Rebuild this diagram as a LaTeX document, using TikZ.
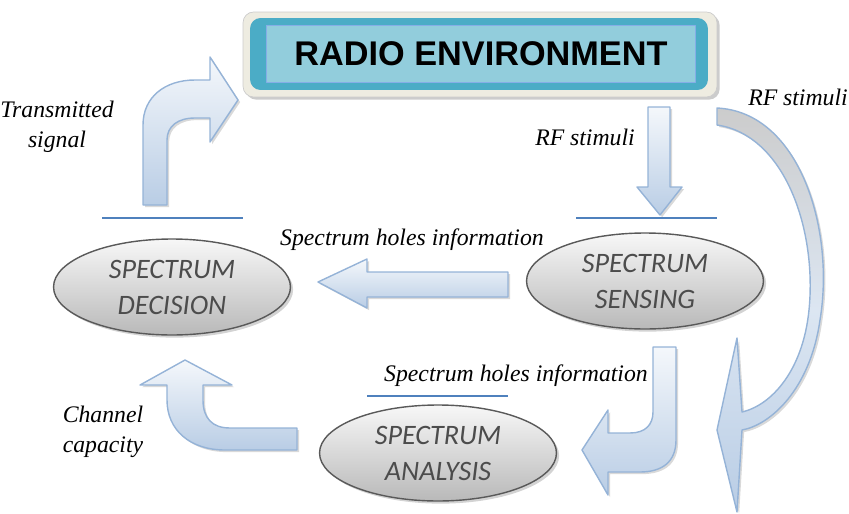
\documentclass[tikz,border=0pt]{standalone}
\usepackage{fontspec}
\setmainfont{Liberation Serif}
\newfontfamily\stagefont{Carlito}
\newfontfamily\titlefont{Liberation Sans}
\usetikzlibrary{shapes.geometric,shadows}
\definecolor{arrowblue}{HTML}{B9CDE5}
\definecolor{arrowedge}{HTML}{95B3D7}
\definecolor{teal}{HTML}{4BACC6}
\definecolor{tealpale}{HTML}{92CDDC}
\definecolor{cream}{HTML}{EEECE1}
\definecolor{barblue}{HTML}{4F81BD}
\definecolor{stagetext}{HTML}{595959}
\begin{document}
\begin{tikzpicture}[x=0.02cm, y=-0.02cm, line join=round,
    envlayer/.style={rectangle, rounded corners=6pt, inner sep=0pt},
    stage/.style={ellipse, draw=stagetext, line width=0.8pt, top color=gray!6, bottom color=gray!55,
        minimum width=4.74cm, minimum height=1.92cm, inner sep=0pt, align=center,
        font=\stagefont\itshape\fontsize{16}{20.5}\selectfont, text=stagetext!85!black,
        drop shadow={opacity=0.35, shadow xshift=1.5pt, shadow yshift=-1.5pt}},
    lbl/.style={font=\itshape\fontsize{13.5}{17}\selectfont, align=center, inner sep=0pt},
    blockarrow/.style={draw=arrowedge, line width=0.8pt, top color=white!85!arrowblue, bottom color=arrowblue,
        drop shadow={opacity=0.3, shadow xshift=1.2pt, shadow yshift=-1.2pt}},
    barline/.style={draw=barblue, line width=1pt}]
  \useasboundingbox (0,0) rectangle (849,514);
  % radio environment box
  \node[envlayer, fill=cream, draw=gray!40, minimum width=9.48cm, minimum height=1.7cm,
        drop shadow={opacity=0.4, shadow xshift=1.5pt, shadow yshift=-1.5pt}] (envo) at (480,54.5) {};
  \node[envlayer, fill=teal, minimum width=9.16cm, minimum height=1.44cm] (envm) at (479,54) {};
  \node[envlayer, rounded corners=0pt, fill=tealpale, draw=teal!70!blue!60, minimum width=8.58cm, minimum height=1.14cm,
        font=\titlefont\bfseries\fontsize{19.5}{21}\selectfont] (env) at (481,53.5) {RADIO ENVIRONMENT};
  % stages
  \node[stage] (decision) at (172,287) {SPECTRUM\\DECISION};
  \node[stage] (sensing) at (645,281) {SPECTRUM\\SENSING};
  \node[stage] (analysis) at (438,453) {SPECTRUM\\ANALYSIS};
  \draw[barline] (102,218) -- (243,218);
  \draw[barline] (576,218) -- (717,218);
  \draw[barline] (367,396) -- (508,396);
  % arrows
  \path[blockarrow] (143,205) -- (143,125) .. controls (143,97) and (165,80) .. (195,80) -- (210,80)
    -- (210,57) -- (238,100) -- (210,142) -- (210,118) -- (195,118)
    .. controls (178,118) and (167,126) .. (167,140) -- (167,205) -- cycle;
  \path[blockarrow] (648,107) -- (670,107) -- (670,187) -- (682,187) -- (660,215) -- (637,187) -- (648,187) -- cycle;
  \path[blockarrow] (508,272) -- (367,272) -- (367,259) -- (318,282) -- (367,308) -- (367,297) -- (508,297) -- cycle;
  \path[blockarrow] (653,347) -- (676,347) -- (676,440) .. controls (676,462) and (662,472) .. (640,472) -- (608,472)
    -- (608,495) -- (582,450) -- (608,410) -- (608,433) -- (630,433)
    .. controls (645,433) and (653,425) .. (653,412) -- cycle;
  \path[blockarrow] (297,428) -- (230,428) .. controls (212,428) and (203,418) .. (203,400) -- (203,385)
    -- (232,385) -- (185,360) -- (140,385) -- (167,385) -- (167,400)
    .. controls (167,430) and (190,450) .. (225,450) -- (297,450) -- cycle;
  \path[blockarrow, top color=gray!40, middle color=white!50!arrowblue] (717,108) .. controls (800,112) and (835,230) .. (820,320)
    .. controls (810,390) and (770,425) .. (742,430) -- (737,512) -- (717,430) -- (737,338) -- (742,412)
    .. controls (772,405) and (803,370) .. (809,310) .. controls (817,230) and (785,135) .. (717,125) -- cycle;
  % labels
  \node[lbl] (txlbl) at (57,127) {Transmitted\\signal};
  \node[lbl] (rflbl) at (585,137) {RF stimuli};
  \node[lbl] (rfouter) at (798,97) {RF stimuli};
  \node[lbl] (holeslbl) at (412,240) {Spectrum holes information};
  \node[lbl] (holeslbltwo) at (516,376) {Spectrum holes information};
  \node[lbl] (caplbl) at (103,432) {Channel\\capacity};
\end{tikzpicture}
\end{document}
